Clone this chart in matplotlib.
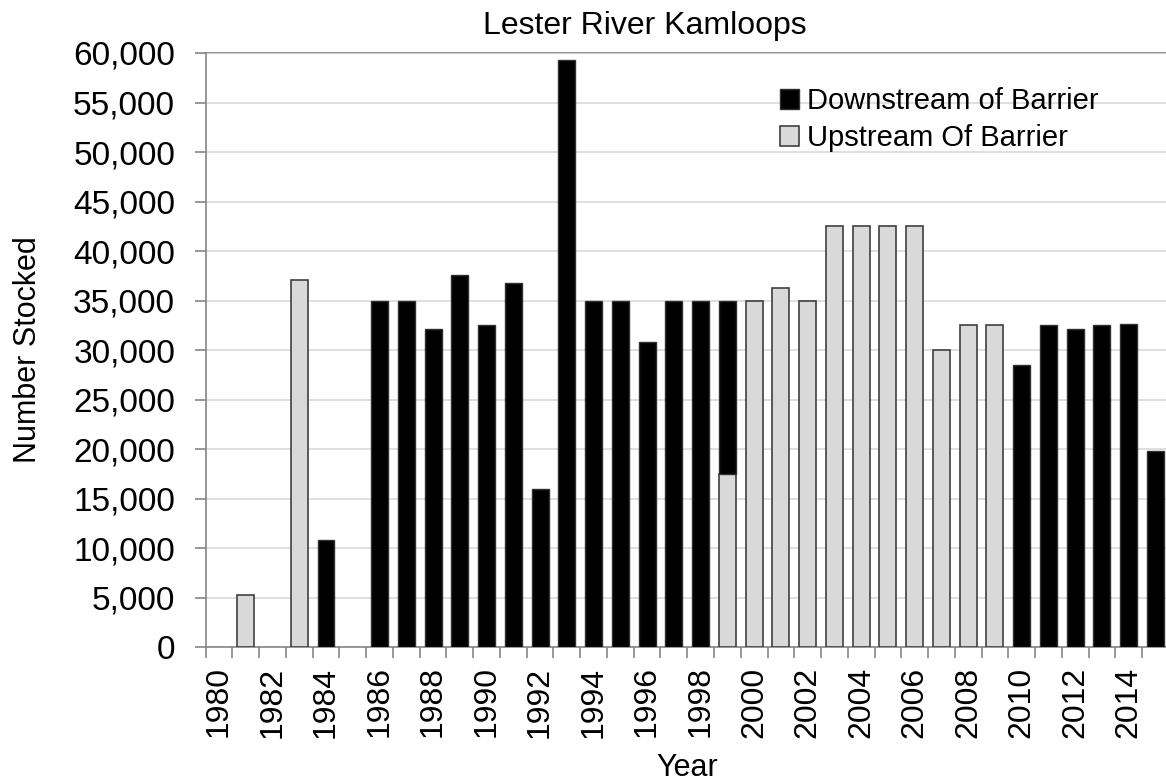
import numpy as np
import matplotlib
matplotlib.use("Agg")
import matplotlib.pyplot as plt
from matplotlib.ticker import FuncFormatter, FixedLocator

plt.rcParams['font.family'] = ['Liberation Sans', 'DejaVu Sans']

years = list(range(1980, 2016))
downstream = [0, 0, 0, 0, 10800, 0, 35000, 35000, 32100, 37600,
              32500, 36800, 16000, 59300, 35000, 35000, 30800, 35000, 35000, 17500,
              0, 0, 0, 0, 0, 0, 0, 0, 0, 0,
              28500, 32500, 32100, 32500, 32650, 19800]
upstream = [0, 5300, 0, 37100, 0, 0, 0, 0, 0, 0,
            0, 0, 0, 0, 0, 0, 0, 0, 0, 17500,
            35000, 36300, 35000, 42500, 42500, 42500, 42500, 30000, 32500, 32500,
            0, 0, 0, 0, 0, 0]

x = np.arange(len(years))
down = np.array(downstream)
up = np.array(upstream)

fig = plt.figure(figsize=(11.66, 7.84), dpi=100)
ax = fig.add_axes([0.1764, 0.1747, 0.826, 0.7577])

w = 0.63
m = up > 0
ax.bar(x[m], up[m], w, color='#d9d9d9', edgecolor='#404040', linewidth=1.2,
       label='Upstream Of Barrier', zorder=3)
m = down > 0
ax.bar(x[m], down[m], w, bottom=up[m], color='black', edgecolor='#303030',
       linewidth=1.0, label='Downstream of Barrier', zorder=3)

ax.set_xlim(-0.5, len(years) - 0.5)
ax.set_ylim(0, 60000)
ax.set_yticks(np.arange(0, 60001, 5000))
ax.yaxis.set_major_formatter(FuncFormatter(lambda v, p: f"{int(v):,}"))
ax.grid(axis='y', color='#d9d9d9', linewidth=1.2, zorder=0)
ax.axhline(60000, color='#808080', linewidth=1.2, zorder=1, clip_on=False)

ax.set_xticks(x[::2])
ax.set_xticklabels([str(y) for y in years[::2]], rotation=90)
ax.xaxis.set_minor_locator(FixedLocator(np.arange(-0.5, len(years), 1)))
ax.tick_params(axis='x', which='major', length=0, labelsize=23, pad=14)
ax.tick_params(axis='x', which='minor', length=8, color='#868686', width=1.2)
ax.tick_params(axis='y', length=8, color='#868686', width=1.2, labelsize=24, pad=14)

for s in ['top', 'right']:
    ax.spines[s].set_visible(False)
for s in ['left', 'bottom']:
    ax.spines[s].set_color('#868686')
    ax.spines[s].set_linewidth(1.2)

fig.text(645 / 1166, 1 - 26 / 784, "Lester River Kamloops", fontsize=23,
         ha='center', va='center')
ax.set_xlabel("Year", fontsize=22)
ax.xaxis.set_label_coords(0.5, (647 - 768) / 594)
ax.xaxis.label.set_va('center')
ax.set_ylabel("Number Stocked", fontsize=22)
ax.yaxis.set_label_coords((28 - 205.7) / 961, 0.5)
ax.yaxis.label.set_va('center')

h, l = ax.get_legend_handles_labels()
ax.legend(h[::-1], l[::-1], loc='upper left', bbox_to_anchor=(0.59, 0.952),
          frameon=False, fontsize=21, handlelength=0.65, handleheight=0.65,
          handletextpad=0.3, labelspacing=0.3, borderpad=0.2, borderaxespad=0)

fig.savefig("out.png", dpi=100)
